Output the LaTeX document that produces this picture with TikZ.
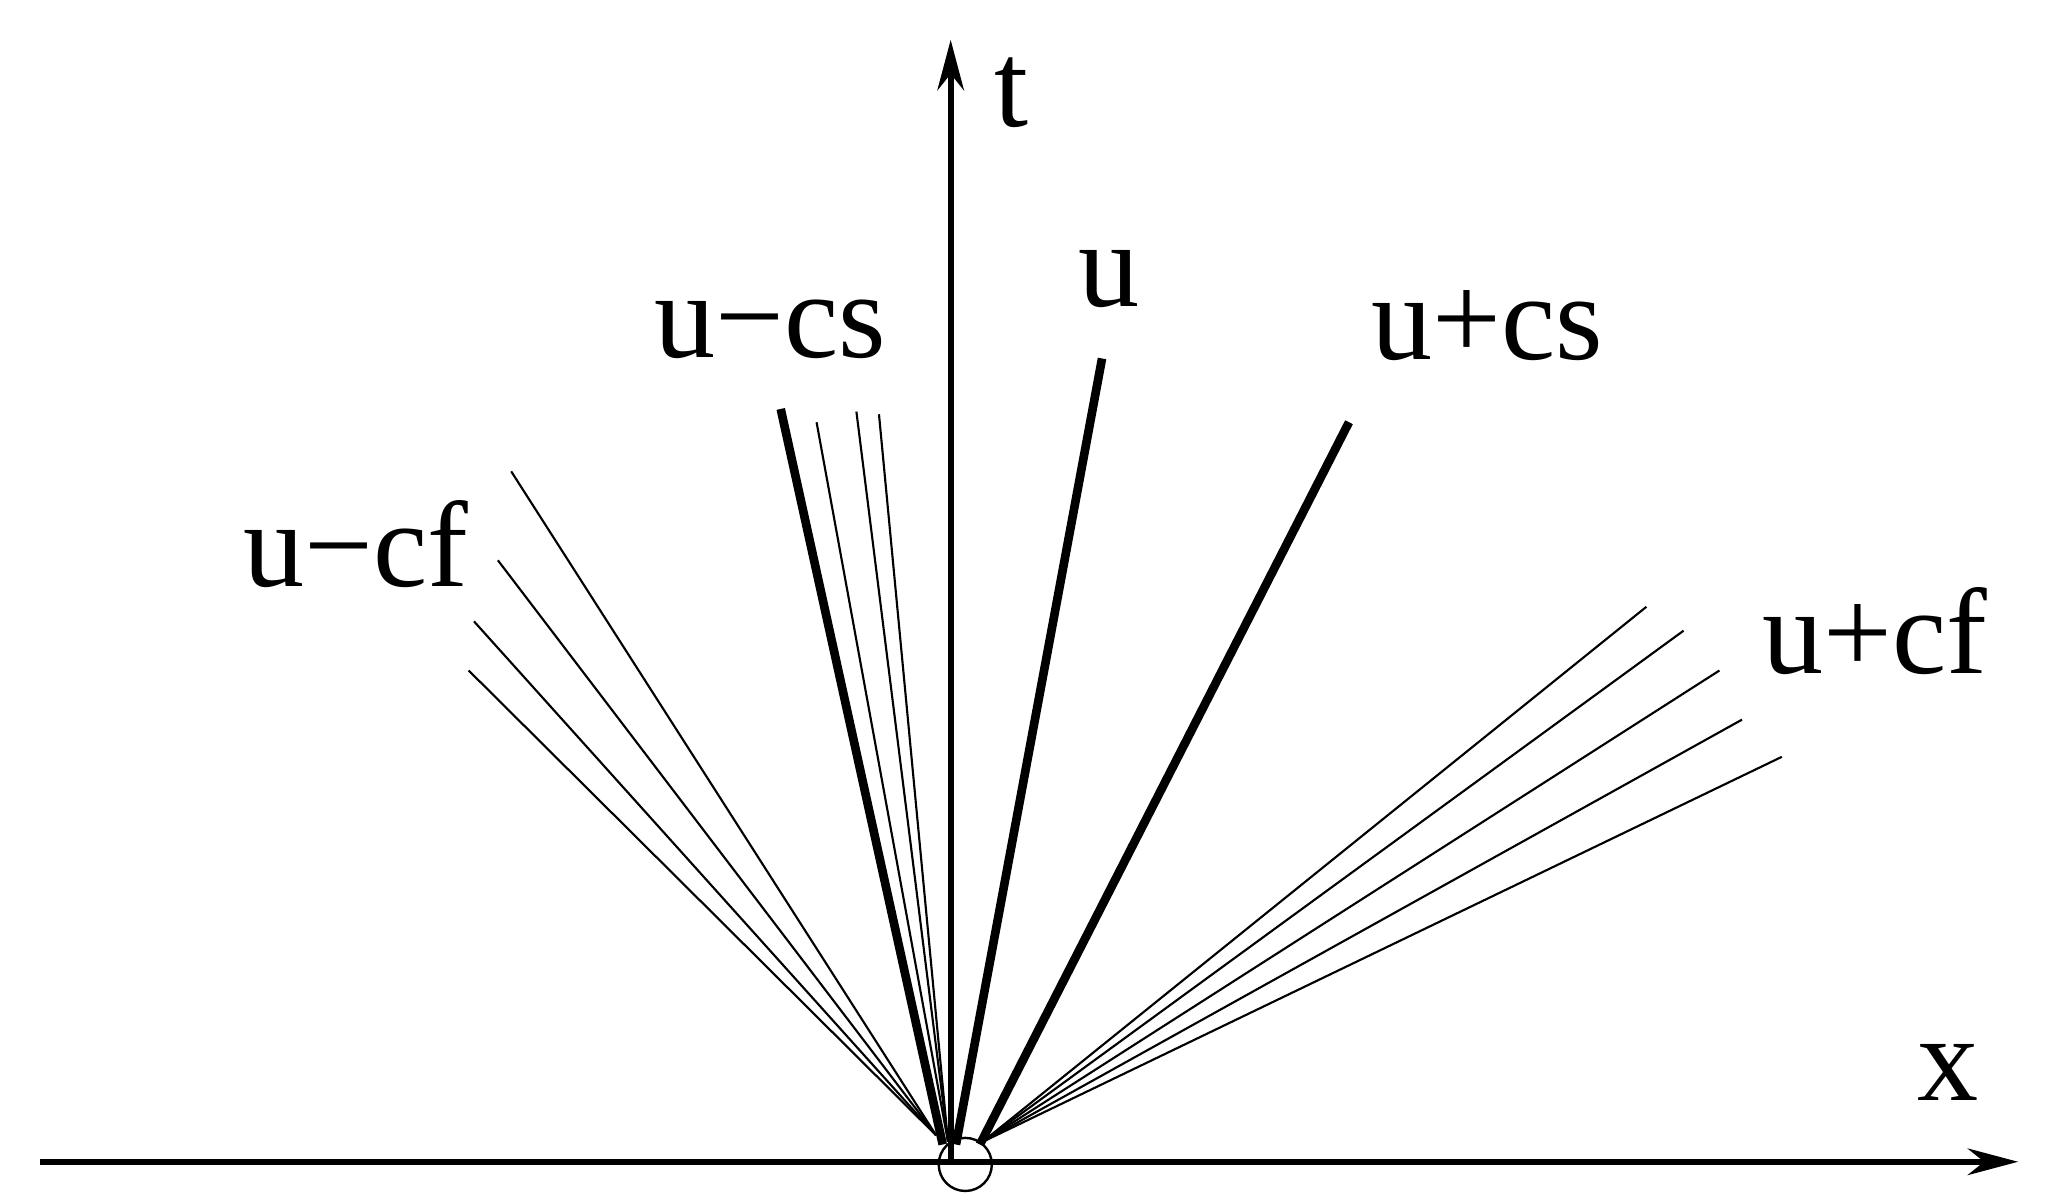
\documentclass[tikz,border=0pt]{standalone}
\usepackage{fontspec}
\setmainfont{Liberation Serif}
\begin{document}
\begin{tikzpicture}[x=1pt,y=-1pt,
  thin line/.style={line width=1.6pt},
  thick line/.style={line width=6.5pt},
  axis/.style={line width=4.5pt,-{Stealth[length=38pt,width=20pt]}},
  lab/.style={font=\fontsize{92}{92}\selectfont,inner sep=0pt}]
\usetikzlibrary{arrows.meta}
\useasboundingbox (0,0) rectangle (1550,901);
\coordinate (XL) at (30,875);
\coordinate (XR) at (1520,875);
\coordinate (TB) at (716,875);
\coordinate (TT) at (716,30);
\draw[axis] (XL) -- (XR);
\draw[axis] (TB) -- (TT);
\node[circle,draw,line width=1.8pt,minimum size=40pt,inner sep=0pt] (c) at (727,877) {};
\node[lab] (lt) at (762,70) {t};
\node[lab] (lx) at (1467,808) {x};
\node[lab] (lu) at (835,210) {u};
\node[lab] (lucs) at (580,248) {u\textminus cs};
\node[lab] (lupcs) at (1120,245) {u+cs};
\node[lab] (lucf) at (268,410) {u\textminus cf};
\node[lab] (lupcf) at (1412,475) {u+cf};
\coordinate (a1) at (588,308);
\coordinate (a2) at (830,270);
\coordinate (a3) at (1016,318);
\draw[thick line] (710,862) -- (a1);
\draw[thick line] (720,862) -- (a2);
\draw[thick line] (738,862) -- (a3);
\foreach \p in {(615,318),(645,310),(662,312)} \draw[thin line] (714,860) -- \p;
\foreach \p in {(385,355),(375,422),(357,468),(353,505)} \draw[thin line] (705,855) -- \p;
\foreach \p in {(1240,457),(1268,475),(1295,505),(1312,542),(1342,570)} \draw[thin line] (740,860) -- \p;
\end{tikzpicture}
\end{document}
